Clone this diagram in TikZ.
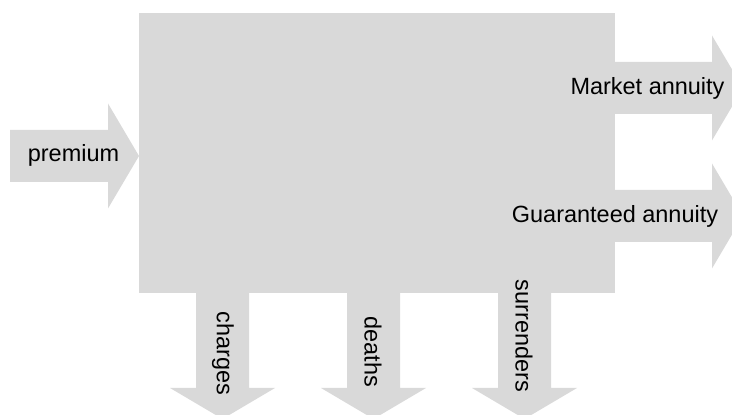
\documentclass[tikz,border=0pt]{standalone}
\usepackage{fontspec}
\setmainfont{Liberation Sans}
\usepackage{xcolor}
\definecolor{flowgray}{HTML}{D9D9D9}
\usepackage{tikz}
\usetikzlibrary{positioning}

\begin{document}
\begin{tikzpicture}[
  fundbox/.style={fill=flowgray, draw=none, minimum width=11.9cm, minimum height=7cm, inner sep=0pt},
  flow/.style={fill=flowgray, draw=none},
  lbl/.style={font=\fontsize{16.7}{20}\selectfont, text=black, inner sep=0pt},
  vlbl/.style={lbl, rotate=-90}
]
  \useasboundingbox (0,0) rectangle (18.3,10.375);
  \clip (0,0) rectangle (18.3,10.375);

  % cash fund
  \node[fundbox] (fund) at (9.425,6.55) {};

  % in and out flows
  \fill[flow] (0.25,5.825) -- (2.7,5.825) -- (2.7,5.1625) -- (3.475,6.475) -- (2.7,7.7875) -- (2.7,7.125) -- (0.25,7.125) -- cycle;
  \fill[flow] (15.3,7.525) -- (17.8,7.525) -- (17.8,6.8625) -- (18.575,8.175) -- (17.8,9.4875) -- (17.8,8.825) -- (15.3,8.825) -- cycle;
  \fill[flow] (15.3,4.325) -- (17.8,4.325) -- (17.8,3.6625) -- (18.575,4.975) -- (17.8,6.2875) -- (17.8,5.625) -- (15.3,5.625) -- cycle;
  \fill[flow] (4.9,3.1) -- (4.9,0.675) -- (4.25,0.675) -- (5.5625,-0.1) -- (6.875,0.675) -- (6.225,0.675) -- (6.225,3.1) -- cycle;
  \fill[flow] (8.675,3.1) -- (8.675,0.675) -- (8.025,0.675) -- (9.3375,-0.1) -- (10.65,0.675) -- (10.0,0.675) -- (10.0,3.1) -- cycle;
  \fill[flow] (12.45,3.1) -- (12.45,0.675) -- (11.8,0.675) -- (13.1125,-0.1) -- (14.425,0.675) -- (13.775,0.675) -- (13.775,3.1) -- cycle;

  \node[lbl] (premium) at (1.8375,6.5) {premium};
  \node[lbl] (market) at (16.1875,8.175) {Market annuity};
  \node[lbl] (guaranteed) at (15.375,4.975) {Guaranteed annuity};
  \node[vlbl] (charges) at (5.575,1.5375) {charges};
  \node[vlbl] (deaths) at (9.325,1.575) {deaths};
  \node[vlbl] (surrenders) at (13.1,1.975) {surrenders};
\end{tikzpicture}
\end{document}
